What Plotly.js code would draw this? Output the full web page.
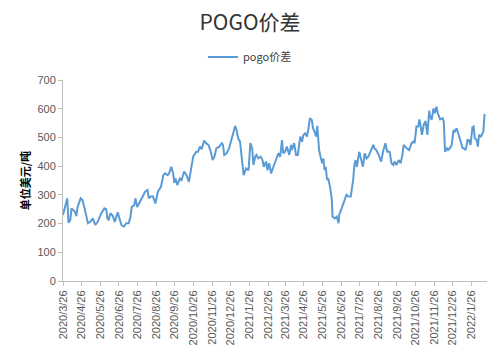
<!DOCTYPE html>
<html>
<head>
<meta charset="utf-8">
<script src="https://cdn.plot.ly/plotly-3.0.1.min.js"></script>
<style>html,body{margin:0;padding:0;background:#fff;}#chart{width:500px;height:355px;}</style>
</head>
<body>
<div id="chart"></div>
<script>
const seriesName = 'pogo价差';
const dates = [
'2020-03-26','2020-03-29','2020-04-02','2020-04-04','2020-04-07','2020-04-09','2020-04-13','2020-04-15','2020-04-17','2020-04-19',
'2020-04-24','2020-04-27','2020-04-30','2020-05-06','2020-05-10','2020-05-14','2020-05-18','2020-05-22','2020-05-28','2020-06-02',
'2020-06-05','2020-06-07','2020-06-09','2020-06-12','2020-06-16','2020-06-19','2020-06-24','2020-06-27','2020-06-30','2020-07-04',
'2020-07-08','2020-07-12','2020-07-15','2020-07-17','2020-07-21','2020-07-23','2020-07-26','2020-07-29','2020-08-01','2020-08-05',
'2020-08-08','2020-08-12','2020-08-14','2020-08-17','2020-08-21','2020-08-25','2020-08-29','2020-09-03','2020-09-07','2020-09-10',
'2020-09-14','2020-09-16','2020-09-20','2020-09-23','2020-09-25','2020-09-27','2020-09-30','2020-10-04','2020-10-07','2020-10-11',
'2020-10-15','2020-10-19','2020-10-21','2020-10-23','2020-10-26','2020-10-31','2020-11-03','2020-11-06','2020-11-09','2020-11-13',
'2020-11-16','2020-11-20','2020-11-24','2020-11-27','2020-11-30','2020-12-03','2020-12-08','2020-12-12','2020-12-14','2020-12-16',
'2020-12-20','2020-12-24','2020-12-28','2020-12-31','2021-01-03','2021-01-05','2021-01-08','2021-01-11','2021-01-14','2021-01-15',
'2021-01-17','2021-01-21','2021-01-25','2021-01-28','2021-01-31','2021-02-02','2021-02-05','2021-02-07','2021-02-10','2021-02-14',
'2021-02-17','2021-02-19','2021-02-23','2021-02-25','2021-02-28','2021-03-03','2021-03-06','2021-03-10','2021-03-13','2021-03-15',
'2021-03-18','2021-03-21','2021-03-23','2021-03-26','2021-03-29','2021-04-02','2021-04-05','2021-04-06','2021-04-10','2021-04-13',
'2021-04-16','2021-04-20','2021-04-23','2021-04-25','2021-04-28','2021-05-01','2021-05-03','2021-05-06','2021-05-09','2021-05-11',
'2021-05-14','2021-05-16','2021-05-18','2021-05-20','2021-05-21','2021-05-24','2021-05-26','2021-05-28','2021-05-30','2021-06-01',
'2021-06-03','2021-06-05','2021-06-08','2021-06-11','2021-06-12','2021-06-16','2021-06-19','2021-06-22','2021-06-23','2021-06-27',
'2021-07-01','2021-07-05','2021-07-08','2021-07-12','2021-07-16','2021-07-18','2021-07-20','2021-07-22','2021-07-26','2021-07-29',
'2021-08-01','2021-08-04','2021-08-07','2021-08-10','2021-08-14','2021-08-18','2021-08-20','2021-08-23','2021-08-27','2021-08-31',
'2021-09-03','2021-09-07','2021-09-10','2021-09-14','2021-09-17','2021-09-20','2021-09-22','2021-09-25','2021-09-29','2021-10-02',
'2021-10-05','2021-10-07','2021-10-12','2021-10-16','2021-10-20','2021-10-23','2021-10-25','2021-10-28','2021-10-31','2021-11-02',
'2021-11-04','2021-11-06','2021-11-09','2021-11-12','2021-11-15','2021-11-18','2021-11-19','2021-11-22','2021-11-25','2021-11-27',
'2021-11-30','2021-12-02','2021-12-06','2021-12-10','2021-12-12','2021-12-14','2021-12-17','2021-12-19','2021-12-22','2021-12-25',
'2021-12-28','2021-12-30','2022-01-02','2022-01-04','2022-01-08','2022-01-12','2022-01-14','2022-01-17','2022-01-20','2022-01-22',
'2022-01-25','2022-01-28','2022-01-30','2022-02-01','2022-02-04','2022-02-06','2022-02-08','2022-02-11','2022-02-14','2022-02-15',
'2022-02-17'
];
const spread = [
230,260,288,203,212,253,245,240,226,258,
288,282,258,201,206,218,195,206,236,253,
250,218,212,236,226,206,239,220,195,189,
201,201,224,258,264,288,258,270,282,294,
311,317,288,294,294,270,311,328,369,375,
369,372,398,375,342,357,334,357,351,381,
369,345,370,410,433,450,450,468,459,489,
480,474,450,421,433,462,468,480,474,439,
445,462,491,514,540,528,497,485,433,410,
369,392,386,480,462,404,433,439,427,433,
421,398,416,386,410,375,392,416,439,445,
433,491,445,450,468,439,474,456,480,439,
439,503,485,508,514,503,526,567,561,532,
517,503,540,491,456,427,410,427,386,398,
352,357,328,282,224,218,224,201,230,253,
276,300,294,294,352,404,421,398,450,427,
398,445,427,433,456,474,462,456,439,416,
450,480,450,450,410,404,416,404,421,410,
439,474,462,456,480,486,480,538,538,563,
538,509,544,557,509,593,578,561,601,584,
607,584,563,567,555,450,462,456,462,474,
526,520,532,515,491,462,462,456,491,491,
474,535,538,497,491,468,509,503,515,520,
582
];
const yTicks = [0,100,200,300,400,500,600,700];
const xTicks = ['2020-03-26','2020-04-26','2020-05-26','2020-06-26','2020-07-26','2020-08-26','2020-09-26','2020-10-26','2020-11-26','2020-12-26','2021-01-26','2021-02-26','2021-03-26','2021-04-26','2021-05-26','2021-06-26','2021-07-26','2021-08-26','2021-09-26','2021-10-26','2021-11-26','2021-12-26','2022-01-26'];
const xTickText = ['2020/3/26','2020/4/26','2020/5/26','2020/6/26','2020/7/26','2020/8/26','2020/9/26','2020/10/26','2020/11/26','2020/12/26','2021/1/26','2021/2/26','2021/3/26','2021/4/26','2021/5/26','2021/6/26','2021/7/26','2021/8/26','2021/9/26','2021/10/26','2021/11/26','2021/12/26','2022/1/26'];

const trace = {
  x: dates, y: spread, type: 'scatter', mode: 'lines', name: seriesName,
  line: {color: '#5B9BD5', width: 2}
};
const layout = {
  width: 500, height: 355,
  margin: {l: 63, r: 13, t: 80, b: 74, autoexpand: false},
  paper_bgcolor: '#ffffff', plot_bgcolor: '#ffffff',
  font: {family: '"Liberation Sans", Arial, sans-serif', color: '#595959', size: 11},
  title: {text: 'POGO价差', x: 0.5, xref: 'container', xanchor: 'center', y: 0.935, yref: 'container', yanchor: 'middle',
    font: {family: '"Noto Sans CJK SC", sans-serif', size: 21, color: '#333333'}},
  showlegend: true,
  legend: {orientation: 'h', x: 0.441, xref: 'paper', xanchor: 'center', y: 1.115, yanchor: 'middle',
    font: {family: '"Noto Sans CJK SC", sans-serif', size: 11, color: '#404040'}},
  xaxis: {
    type: 'date', range: ['2020-03-26', '2022-02-21'], automargin: false,
    tickmode: 'array', tickvals: xTicks, ticktext: xTickText, tickangle: -90,
    showgrid: false, zeroline: false, showline: true, linecolor: '#bfbfbf', linewidth: 1,
    ticks: 'outside', ticklen: 4, tickcolor: '#bfbfbf',
    tickfont: {size: 11, color: '#595959'}
  },
  yaxis: {
    range: [0, 700], tickmode: 'array', tickvals: yTicks, automargin: false,
    showgrid: false, zeroline: false, showline: true, linecolor: '#bfbfbf', linewidth: 1,
    ticks: 'outside', ticklen: 4, tickcolor: '#bfbfbf',
    tickfont: {size: 11, color: '#595959'},
    title: {text: '单位美元/吨', standoff: 4, font: {family: '"Noto Sans CJK SC", sans-serif', size: 11, color: '#000000', weight: 'bold'}}
  }
};
Plotly.newPlot('chart', [trace], layout, {displayModeBar: false, staticPlot: true});
</script>
</body>
</html>
